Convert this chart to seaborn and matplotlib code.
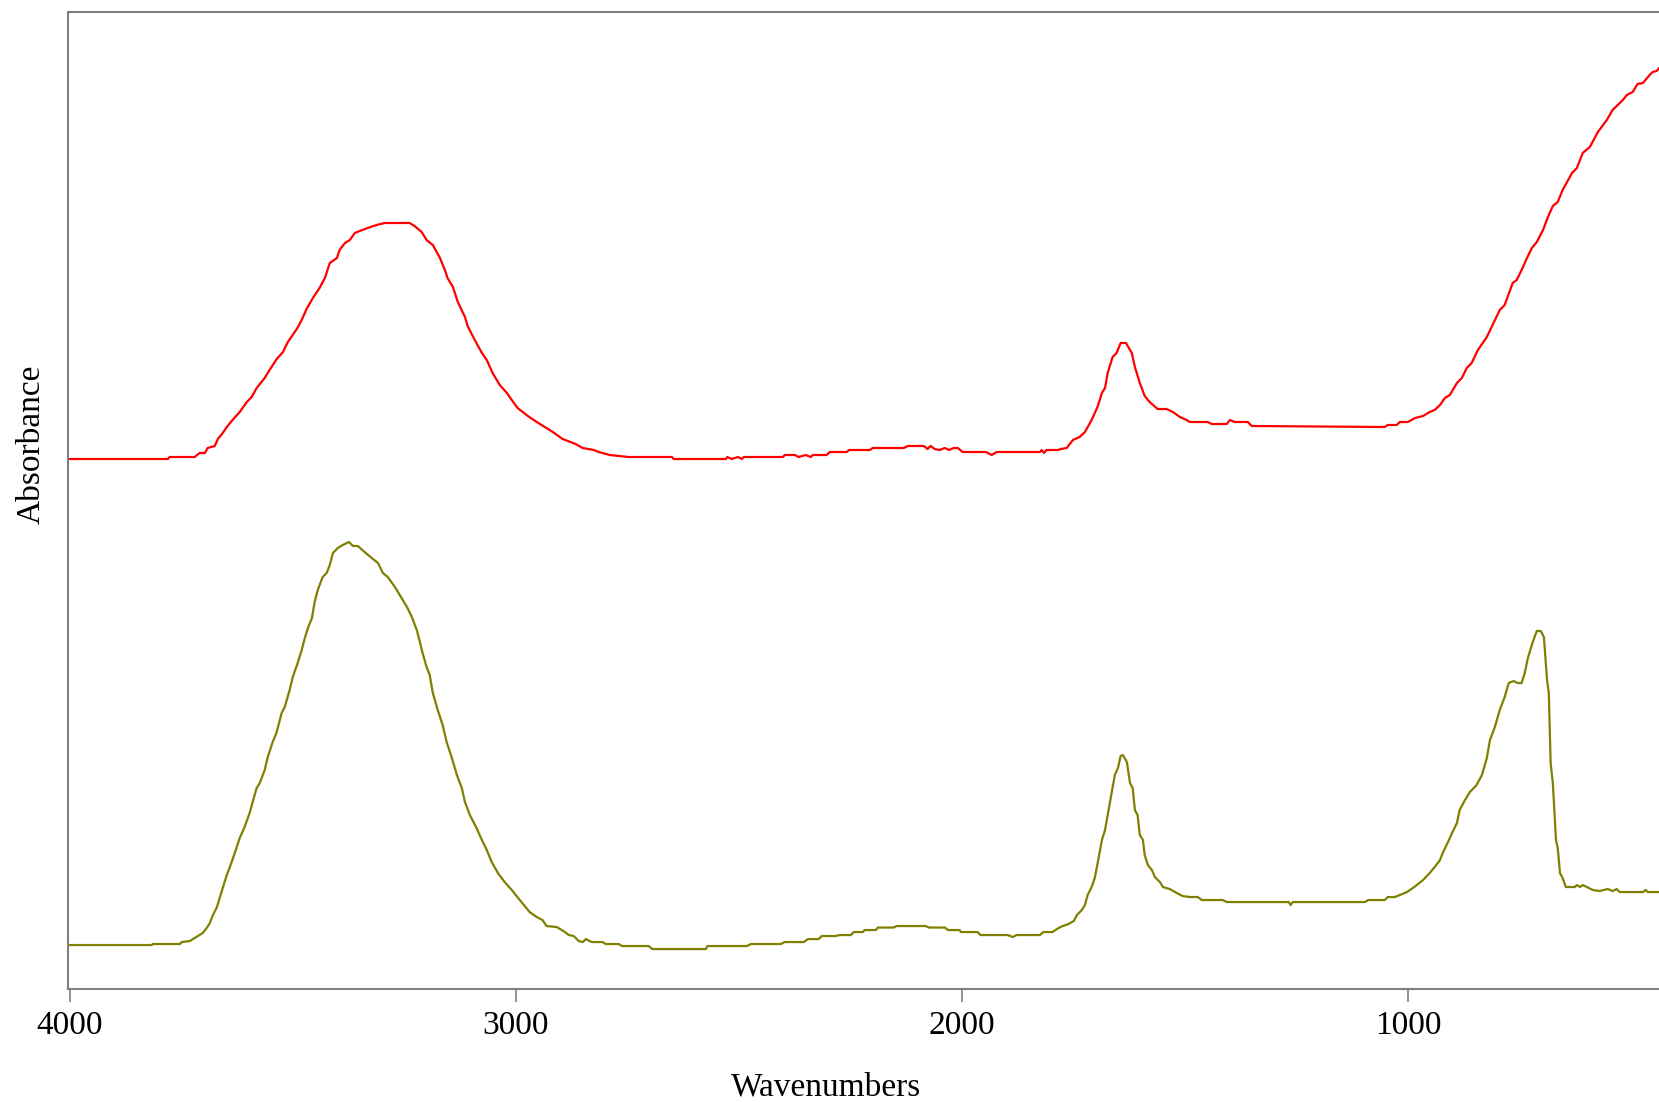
import matplotlib
matplotlib.use("Agg")
import matplotlib.pyplot as plt
import seaborn as sns
import pandas as pd

# ---- data ----
red_wn = [4005, 3821, 3780, 3776, 3720, 3709, 3697, 3691, 3675, 3668, 3657, 3648, 3635, 3619,
          3603, 3592, 3581, 3563, 3552, 3536, 3522, 3511, 3491, 3480, 3469, 3455, 3440, 3428,
          3417, 3401, 3395, 3383, 3372, 3361, 3350, 3332, 3312, 3294, 3238, 3227, 3211, 3200,
          3186, 3170, 3159, 3153, 3141, 3130, 3114, 3108, 3092, 3076, 3065, 3052, 3036, 3020,
          3009, 2996, 2973, 2953, 2935, 2917, 2895, 2866, 2850, 2825, 2814, 2789, 2747, 2650,
          2646, 2529, 2526, 2516, 2502, 2493, 2489, 2401, 2397, 2374, 2366, 2350, 2339, 2334,
          2303, 2296, 2258, 2253, 2206, 2200, 2130, 2121, 2085, 2077, 2070, 2061, 2050, 2038,
          2029, 2018, 2009, 1998, 1946, 1933, 1922, 1825, 1821, 1816, 1810, 1785, 1778, 1765,
          1751, 1736, 1724, 1709, 1695, 1686, 1679, 1673, 1662, 1653, 1644, 1632, 1619, 1612,
          1601, 1590, 1579, 1561, 1541, 1527, 1511, 1496, 1489, 1449, 1440, 1406, 1399, 1388,
          1359, 1350, 1052, 1045, 1025, 1018, 1000, 984, 966, 951, 940, 928, 917, 906, 890,
          879, 868, 857, 843, 823, 810, 794, 783, 765, 756, 745, 733, 722, 711, 697, 686, 675,
          664, 653, 632, 621, 608, 592, 574, 554, 541, 518, 509, 496, 485, 473, 458, 451, 442,
          437]
red_abs = [5.30, 5.30, 5.30, 5.32, 5.32, 5.36, 5.36, 5.41, 5.43, 5.50, 5.56, 5.62, 5.69, 5.77,
           5.87, 5.92, 6.01, 6.11, 6.19, 6.30, 6.37, 6.47, 6.60, 6.69, 6.80, 6.91, 7.01, 7.11,
           7.26, 7.31, 7.39, 7.46, 7.49, 7.56, 7.58, 7.61, 7.64, 7.66, 7.66, 7.63, 7.57, 7.49,
           7.44, 7.31, 7.19, 7.11, 7.02, 6.87, 6.72, 6.63, 6.49, 6.36, 6.29, 6.16, 6.04, 5.96,
           5.89, 5.81, 5.73, 5.67, 5.62, 5.57, 5.50, 5.45, 5.41, 5.39, 5.37, 5.34, 5.32, 5.32,
           5.30, 5.30, 5.32, 5.30, 5.32, 5.30, 5.32, 5.32, 5.34, 5.34, 5.32, 5.34, 5.32, 5.34,
           5.34, 5.37, 5.37, 5.39, 5.39, 5.41, 5.41, 5.43, 5.43, 5.40, 5.43, 5.40, 5.39, 5.41,
           5.39, 5.41, 5.41, 5.37, 5.37, 5.34, 5.37, 5.37, 5.39, 5.36, 5.39, 5.39, 5.40, 5.41,
           5.49, 5.52, 5.57, 5.69, 5.83, 5.96, 6.01, 6.16, 6.32, 6.36, 6.46, 6.46, 6.36, 6.22,
           6.06, 5.93, 5.87, 5.80, 5.80, 5.77, 5.72, 5.69, 5.67, 5.67, 5.65, 5.65, 5.69, 5.67,
           5.67, 5.63, 5.62, 5.64, 5.64, 5.67, 5.67, 5.71, 5.73, 5.77, 5.79, 5.84, 5.91, 5.94,
           6.06, 6.11, 6.21, 6.26, 6.39, 6.52, 6.64, 6.79, 6.84, 7.06, 7.09, 7.19, 7.31, 7.41,
           7.47, 7.59, 7.72, 7.83, 7.87, 7.99, 8.16, 8.21, 8.36, 8.42, 8.57, 8.69, 8.79, 8.89,
           8.94, 8.97, 9.05, 9.06, 9.14, 9.17, 9.18, 9.21]

green_wn = [4005, 3816, 3814, 3753, 3749, 3731, 3720, 3713, 3702, 3693, 3686, 3679, 3670, 3664,
            3657, 3648, 3641, 3630, 3619, 3608, 3596, 3590, 3581, 3574, 3563, 3556, 3545, 3536,
            3525, 3518, 3507, 3500, 3489, 3480, 3473, 3466, 3457, 3451, 3444, 3433, 3424, 3417,
            3410, 3399, 3388, 3374, 3365, 3354, 3339, 3323, 3309, 3298, 3287, 3271, 3256, 3244,
            3233, 3222, 3215, 3209, 3200, 3193, 3186, 3175, 3164, 3155, 3144, 3132, 3121, 3114,
            3103, 3088, 3076, 3065, 3054, 3040, 3025, 3009, 2991, 2969, 2953, 2940, 2931, 2908,
            2890, 2881, 2870, 2859, 2850, 2843, 2830, 2806, 2798, 2769, 2762, 2702, 2694, 2574,
            2570, 2482, 2473, 2406, 2397, 2354, 2345, 2321, 2314, 2283, 2274, 2249, 2242, 2222,
            2218, 2193, 2188, 2153, 2146, 2081, 2074, 2038, 2031, 2005, 2002, 1965, 1958, 1897,
            1886, 1877, 1825, 1817, 1797, 1785, 1774, 1761, 1749, 1742, 1731, 1724, 1718, 1709,
            1702, 1695, 1686, 1679, 1673, 1664, 1657, 1650, 1644, 1639, 1630, 1623, 1617, 1612,
            1606, 1601, 1594, 1590, 1583, 1574, 1567, 1556, 1549, 1534, 1518, 1505, 1489, 1471,
            1462, 1415, 1406, 1267, 1263, 1258, 1096, 1089, 1052, 1045, 1029, 1018, 1002, 989,
            980, 966, 951, 940, 928, 922, 910, 901, 890, 884, 872, 861, 846, 834, 823, 816, 805,
            794, 783, 774, 763, 754, 745, 738, 731, 720, 711, 702, 695, 688, 684, 680, 675, 668,
            664, 659, 653, 646, 626, 621, 614, 608, 599, 585, 570, 552, 541, 532, 525, 473, 467,
            462, 437]
green_abs = [0.44, 0.44, 0.45, 0.45, 0.47, 0.48, 0.51, 0.53, 0.56, 0.61, 0.66, 0.74, 0.82, 0.91,
             1.01, 1.14, 1.22, 1.36, 1.51, 1.62, 1.77, 1.87, 2.01, 2.06, 2.19, 2.32, 2.47, 2.57,
             2.76, 2.82, 2.99, 3.12, 3.26, 3.39, 3.51, 3.61, 3.71, 3.87, 3.99, 4.12, 4.16, 4.24,
             4.36, 4.41, 4.44, 4.47, 4.43, 4.43, 4.37, 4.31, 4.26, 4.16, 4.12, 4.02, 3.91, 3.82,
             3.72, 3.59, 3.47, 3.36, 3.22, 3.14, 2.96, 2.79, 2.64, 2.47, 2.32, 2.14, 2.01, 1.87,
             1.74, 1.61, 1.49, 1.39, 1.27, 1.16, 1.07, 0.99, 0.89, 0.77, 0.72, 0.69, 0.63, 0.62,
             0.57, 0.54, 0.53, 0.48, 0.47, 0.50, 0.47, 0.47, 0.45, 0.45, 0.43, 0.43, 0.40, 0.40,
             0.43, 0.43, 0.45, 0.45, 0.47, 0.47, 0.50, 0.50, 0.53, 0.53, 0.54, 0.54, 0.57, 0.57,
             0.59, 0.59, 0.615, 0.615, 0.63, 0.63, 0.615, 0.615, 0.59, 0.59, 0.57, 0.57, 0.54, 0.54,
             0.52, 0.54, 0.54, 0.57, 0.57, 0.605, 0.63, 0.65, 0.68, 0.74, 0.79, 0.84, 0.94, 1.02,
             1.11, 1.27, 1.49, 1.59, 1.74, 1.97, 2.14, 2.21, 2.33, 2.34, 2.27, 2.06, 2.01, 1.79,
             1.74, 1.54, 1.49, 1.34, 1.24, 1.19, 1.12, 1.07, 1.02, 1.00, 0.96, 0.93, 0.92, 0.92,
             0.89, 0.89, 0.87, 0.87, 0.84, 0.87, 0.87, 0.89, 0.89, 0.92, 0.92, 0.94, 0.97, 1.01,
             1.04, 1.09, 1.16, 1.22, 1.29, 1.36, 1.47, 1.56, 1.66, 1.79, 1.89, 1.97, 2.04, 2.14,
             2.31, 2.49, 2.62, 2.79, 2.92, 3.06, 3.08, 3.06, 3.06, 3.16, 3.31, 3.47, 3.58, 3.58,
             3.52, 3.09, 2.96, 2.26, 2.06, 1.49, 1.41, 1.16, 1.11, 1.02, 1.02, 1.04, 1.02, 1.04,
             1.02, 0.99, 0.98, 1.00, 0.98, 1.00, 0.97, 0.97, 0.99, 0.97, 0.97]

x_ticks = [4000, 3000, 2000, 1000]
x_label = "Wavenumbers"
y_label = "Absorbance"

# ---- plot ----
sns.set_theme(style="white")
plt.rcParams['font.family'] = ['Liberation Serif', 'DejaVu Serif']

fig = plt.figure(figsize=(16.59, 11.02), dpi=100)
ax = fig.add_axes([0.0407, 0.1025, 0.9593, 0.887])

df_red = pd.DataFrame({"wn": red_wn, "abs": red_abs})
df_green = pd.DataFrame({"wn": green_wn, "abs": green_abs})
sns.lineplot(data=df_red, x="wn", y="abs", color="#ff0000", linewidth=1.6,
             estimator=None, sort=False, ax=ax)
sns.lineplot(data=df_green, x="wn", y="abs", color="#808000", linewidth=1.6,
             estimator=None, sort=False, ax=ax)

ax.set_xlim(4005, 437)
ax.set_ylim(0, 9.774)
ax.set_xticks(x_ticks)
ax.set_xticklabels([str(t) for t in x_ticks])
ax.set_yticks([])

for side in ["left", "top", "bottom"]:
    ax.spines[side].set_color("#808080")
    ax.spines[side].set_linewidth(1.5)
ax.spines["right"].set_visible(False)

ax.tick_params(axis="x", which="both", bottom=True, direction="out", length=9.5, width=1.2,
               color="#808080", pad=6, labelsize=24, labelcolor="black")

ax.set_xlabel(x_label, fontsize=24, color="black")
ax.set_ylabel(y_label, fontsize=24, color="black")
ax.xaxis.set_label_coords(0.4766, -0.085)
ax.xaxis.label.set_verticalalignment("top")
ax.yaxis.set_label_coords(-0.0132, 0.5576)

fig.savefig("out.png", dpi=100, facecolor="white")
